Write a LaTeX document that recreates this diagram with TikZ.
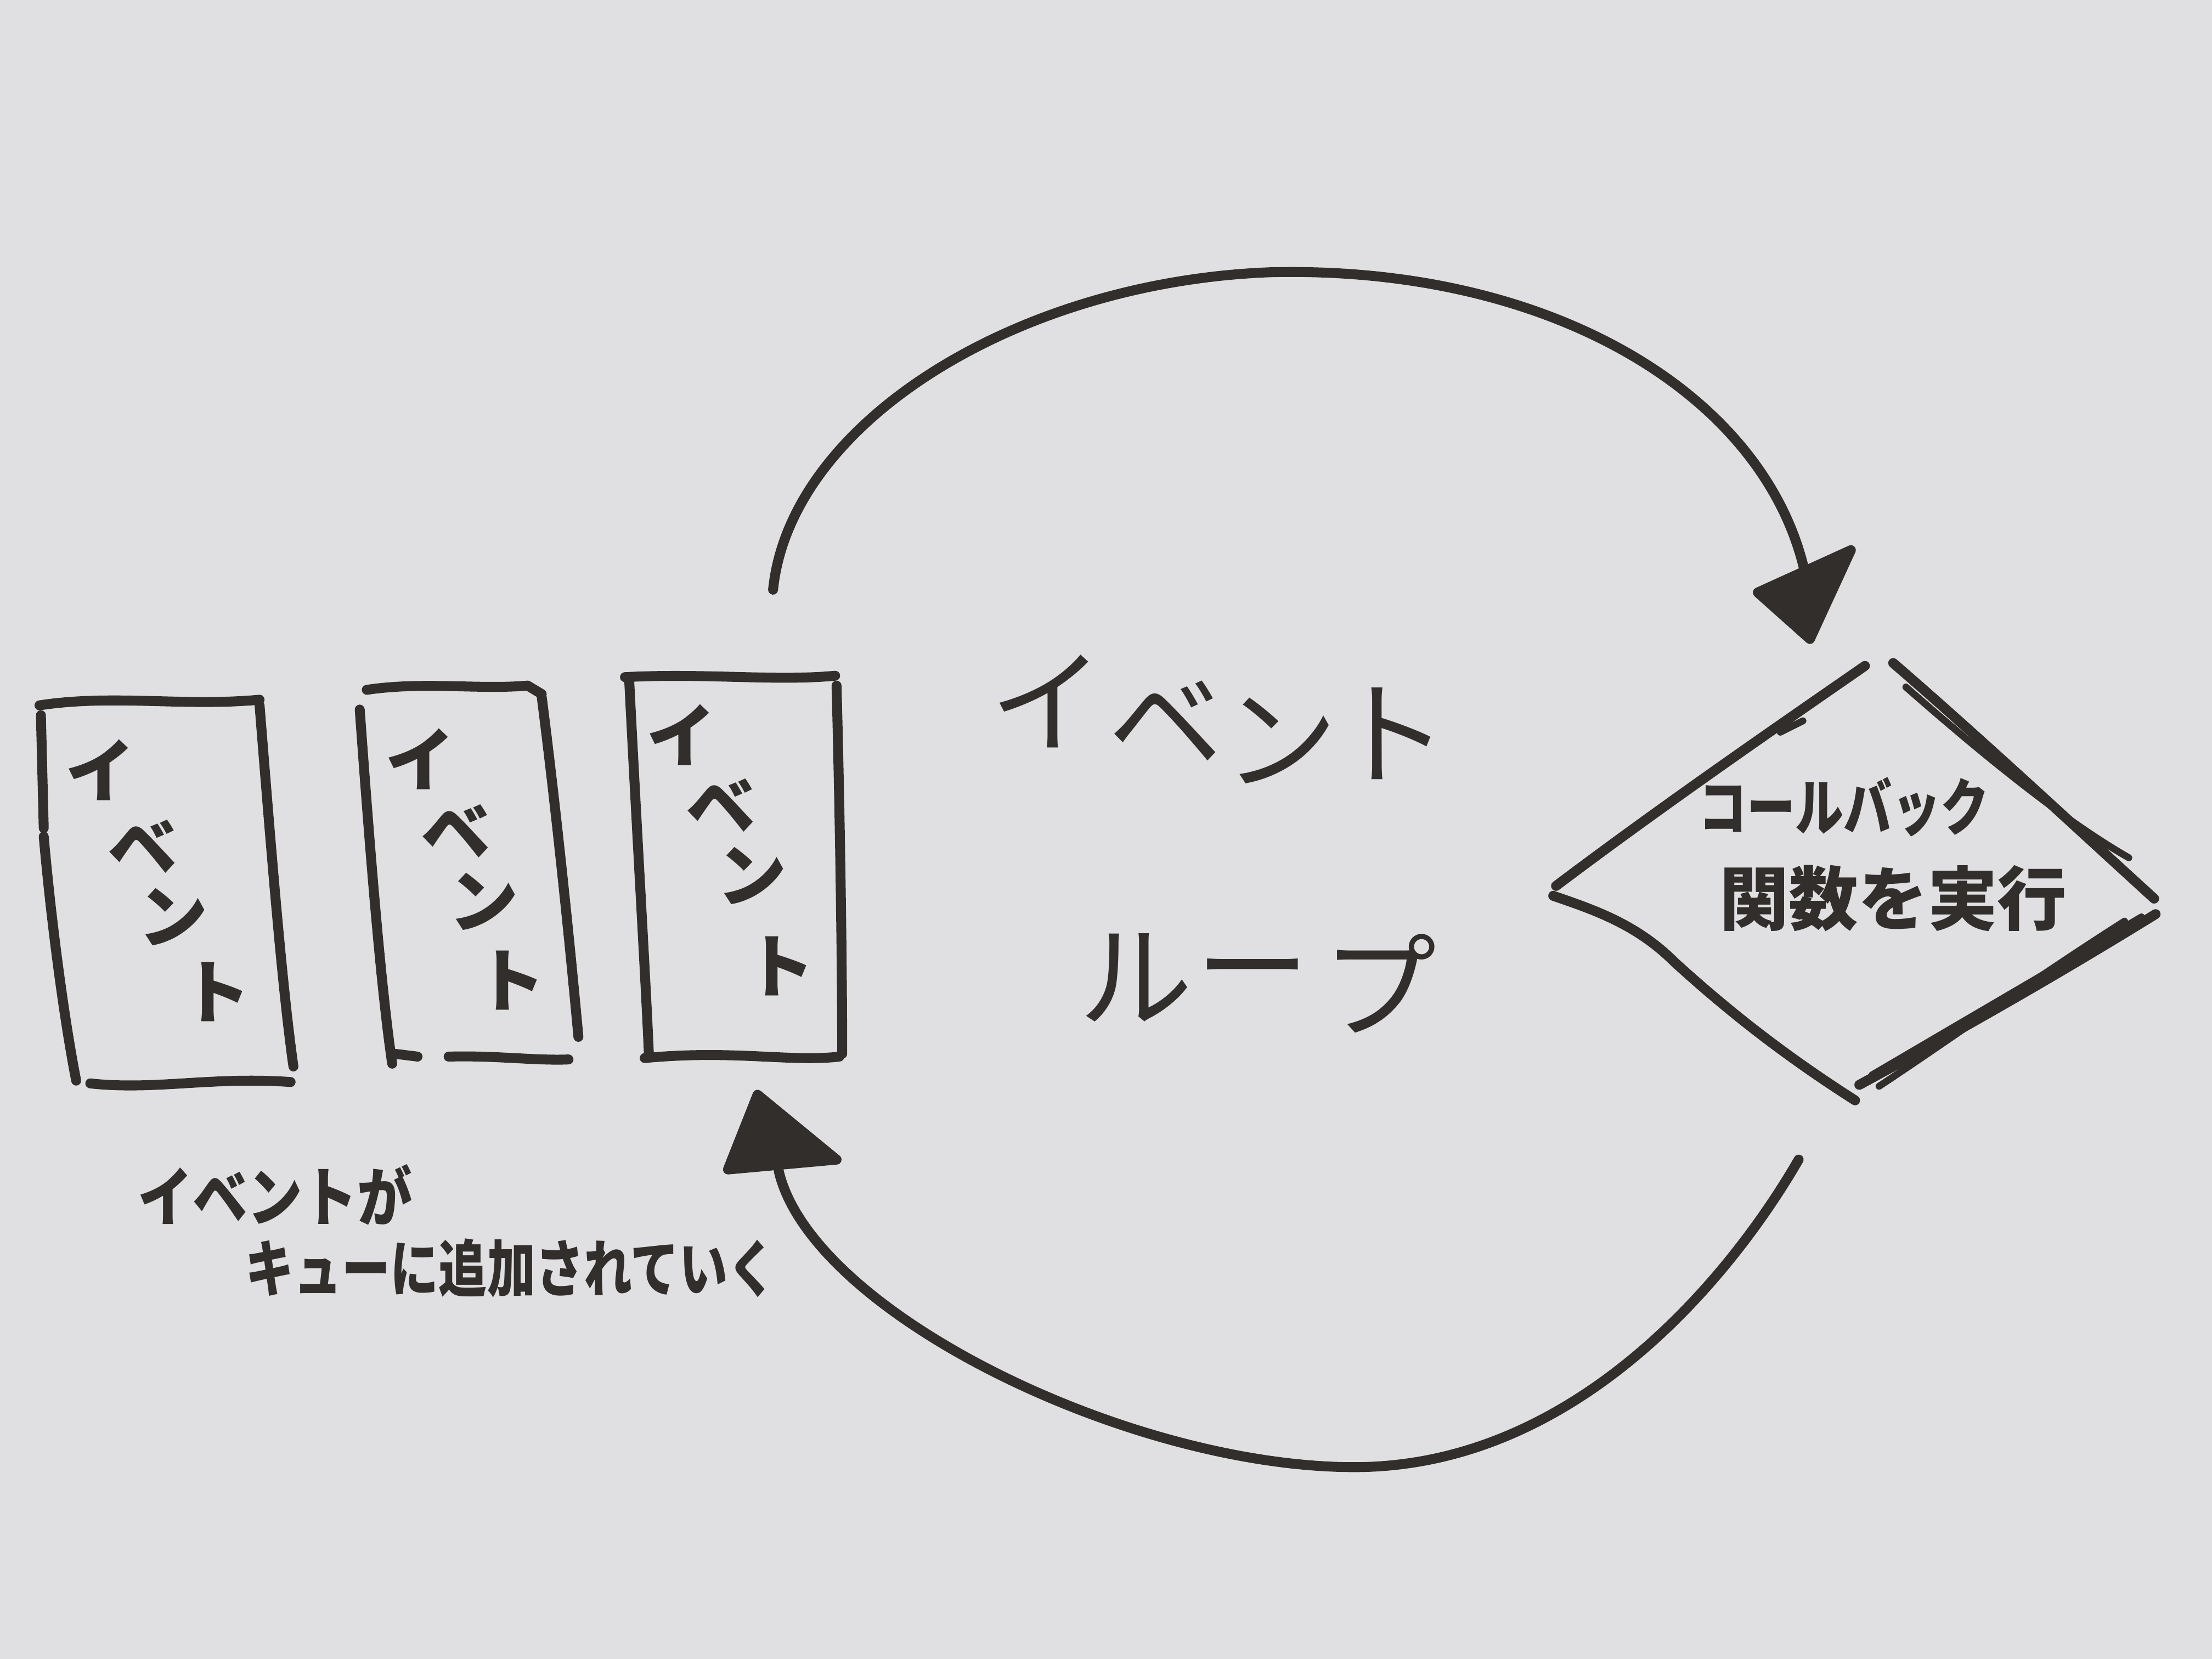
\documentclass[tikz,border=0pt]{standalone}
\usepackage{fontspec}
\usepackage{graphicx}
\newfontfamily\jp{Noto Sans CJK JP}
\usetikzlibrary{shapes.geometric}
\definecolor{board}{RGB}{224,224,227}
\definecolor{ink}{RGB}{50,46,44}
\begin{document}
\begin{tikzpicture}[x=0.01cm,y=-0.01cm,
  stroke/.style={draw=ink,line width=2pt,line cap=round,line join=round},
  thinstroke/.style={draw=ink,line width=1.4pt,line cap=round,line join=round},
  boxch/.style={text=ink,inner sep=0pt,font=\jp\bfseries\fontsize{14}{14}\selectfont},
  bigch/.style={text=ink,inner sep=0pt,font=\jp\fontsize{23}{23}\selectfont},
  note/.style={text=ink,inner sep=0pt,font=\jp\bfseries\fontsize{13}{13}\selectfont}]
\fill[board] (0,0) rectangle (1568,1176);
\useasboundingbox (0,0) rectangle (1568,1176);

% ---- queue box 1
\draw[stroke] (28,500) .. controls (80,492) and (130,501) .. (184,496);
\draw[stroke] (184,500) .. controls (192,600) and (200,700) .. (208,756);
\draw[stroke] (29,507) -- (31,587);
\draw[stroke] (31,593) .. controls (36,650) and (45,720) .. (54,766);
\draw[stroke] (64,768) .. controls (110,773) and (150,763) .. (206,767);
\node[boxch] (q1a) at (71,546) {イ};
\node[boxch] (q1b) at (101,600) {ベ};
\node[boxch] (q1c) at (123,650) {ン};
\node[boxch] (q1d) at (153,703) {ト};

% ---- queue box 2
\draw[stroke] (260,489) .. controls (300,483) and (340,489) .. (374,486) -- (384,492);
\draw[stroke] (384,494) .. controls (395,580) and (405,680) .. (410,735);
\draw[stroke] (255,503) .. controls (262,600) and (270,700) .. (278,754);
\draw[stroke] (280,747) -- (296,749);
\draw[stroke] (318,749) .. controls (350,748) and (380,752) .. (403,751);
\node[boxch] (q2a) at (298,538) {イ};
\node[boxch] (q2b) at (323,589) {ベ};
\node[boxch] (q2c) at (343,639) {ン};
\node[boxch] (q2d) at (362,695) {ト};

% ---- queue box 3
\draw[stroke] (443,480) .. controls (500,477) and (550,483) .. (592,479);
\draw[stroke] (446,482) .. controls (452,600) and (458,700) .. (460,748);
\draw[stroke] (593,486) .. controls (596,600) and (597,700) .. (597,747);
\draw[stroke] (457,750) .. controls (520,744) and (560,753) .. (595,749);
\node[boxch] (q3a) at (483,521) {イ};
\node[boxch] (q3b) at (511,571) {ベ};
\node[boxch] (q3c) at (533,621) {ン};
\node[boxch] (q3d) at (553,685) {ト};

% ---- central label
\node[bigch] (e1) at (742,497) {イ};
\node[bigch] (e2) at (826,512) {ベ};
\node[bigch] (e3) at (908,525) {ン};
\node[bigch] (e4) at (986,520) {ト};
\node[bigch] (l1) at (805,693) {ル};
\node[bigch] (l2) at (888,697) {ー};
\node[bigch] (l3) at (978,697) {プ};

% ---- diamond (callback)
\draw[stroke] (1103,628) .. controls (1180,570) and (1260,515) .. (1322,472);
\draw[thinstroke] (1262,519) -- (1278,511);
\draw[stroke] (1342,470) .. controls (1400,520) and (1470,585) .. (1527,637);
\draw[thinstroke] (1351,487) .. controls (1400,530) and (1460,580) .. (1509,608);
\draw[stroke] (1101,635) .. controls (1130,645) and (1160,655) .. (1187,682)
  .. controls (1220,712) and (1260,745) .. (1315,780);
\draw[stroke] (1528,648) .. controls (1460,690) and (1390,730) .. (1318,769);
\draw[thinstroke] (1518,650) .. controls (1450,690) and (1390,725) .. (1327,762);
\draw[thinstroke] (1506,653) .. controls (1440,695) and (1385,735) .. (1332,770);
\node[text=ink,inner sep=0pt,font=\jp\bfseries\fontsize{12.5}{12.5}\selectfont] (cb1) at (1307,572) {\scalebox{0.78}[1]{コールバック}};
\node[text=ink,inner sep=0pt,font=\jp\bfseries\fontsize{14}{14}\selectfont] (cb2) at (1342,637) {関数を実行};

% ---- loop arrows
\coordinate (ua) at (548,418);
\coordinate (ub) at (1279,404);
\coordinate (la) at (1275,822);
\coordinate (lb) at (552,830);
\draw[stroke] (ua) .. controls (560,300) and (720,200) .. (900,193)
  .. controls (1100,188) and (1250,280) .. (ub);
\filldraw[stroke,fill=ink] (1246,420) -- (1312,390) -- (1283,453) -- cycle;
\draw[stroke] (la) .. controls (1230,900) and (1120,1040) .. (960,1040)
  .. controls (800,1040) and (575,930) .. (lb);
\filldraw[stroke,fill=ink] (537,776) -- (593,822) -- (516,829) -- cycle;

% ---- note
\node[note] (n1) at (195,847) {\scalebox{0.85}[1]{イベントが}};
\node[text=ink,inner sep=0pt,font=\jp\bfseries\fontsize{12.5}{12.5}\selectfont] (n2) at (362,899) {\scalebox{0.78}[1]{キューに追加されていく}};
\end{tikzpicture}
\end{document}
